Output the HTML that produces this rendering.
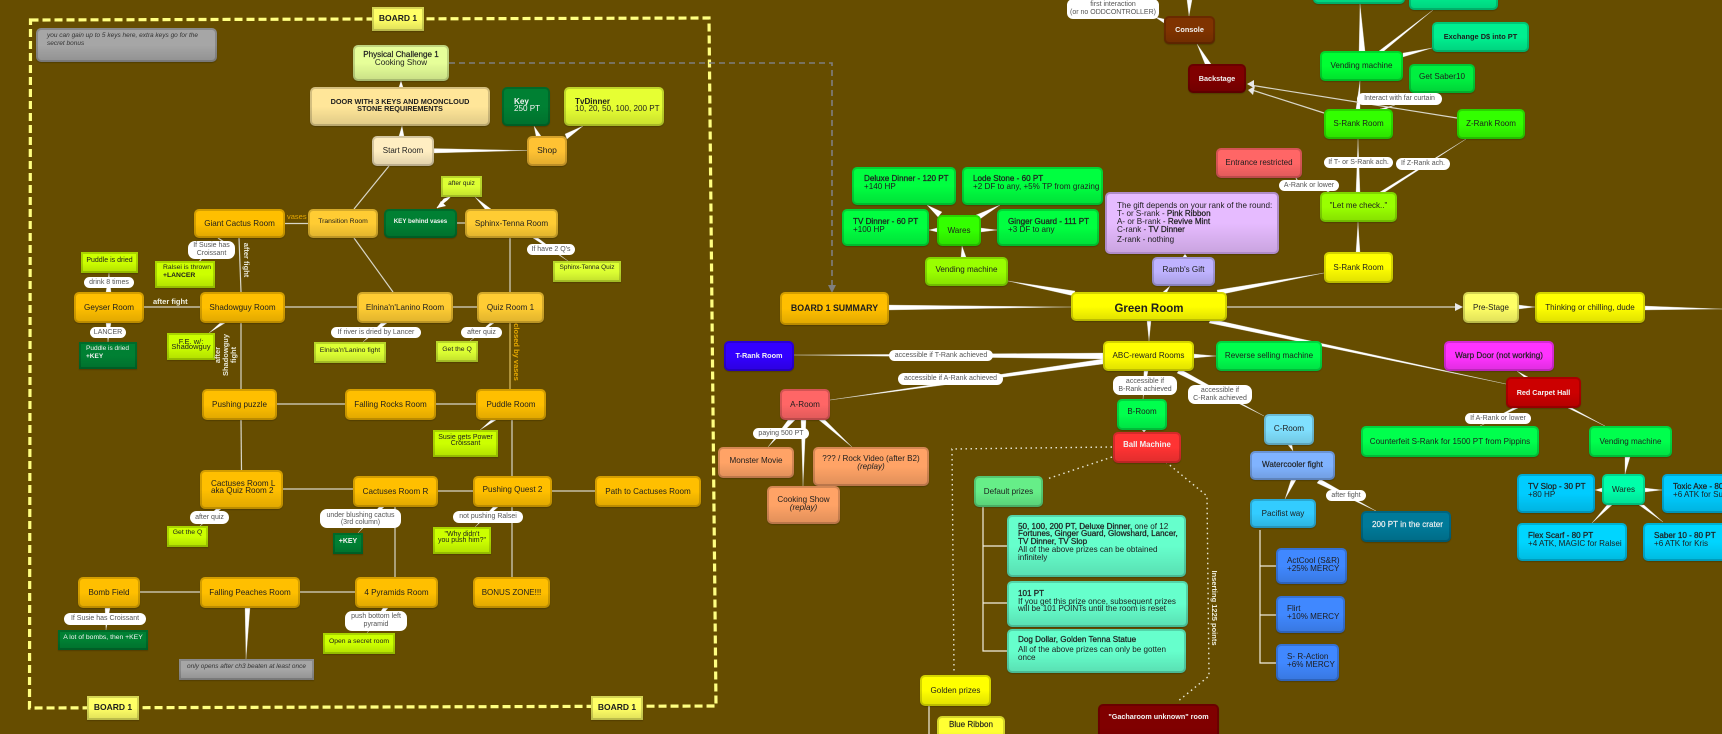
<!DOCTYPE html>
<html><head><meta charset="utf-8"><title>Board 1 diagram</title>
<style>
html,body{margin:0;padding:0;width:1722px;height:734px;overflow:hidden;background:#664d00}
body{position:relative;font-family:"Liberation Sans",sans-serif}
svg.c{position:absolute;left:0;top:0}
.n{position:absolute;box-sizing:border-box;border:2px solid rgba(0,0,0,.17);border-radius:5px;background-image:linear-gradient(to bottom,rgba(0,0,0,0) 50%,rgba(0,0,0,.13));background-origin:border-box;display:flex;align-items:center;justify-content:center;text-align:center;font-size:8.1px;line-height:7.6px;color:#1d1d1d;box-shadow:0 1px 1px rgba(0,0,0,.2);white-space:nowrap}
.r{border-radius:0}
.lf{justify-content:flex-start;text-align:left;padding-left:9px}
.w{color:#f2f2f2}
.b{font-weight:bold}
.l{position:absolute;box-sizing:border-box;background:#fff;border-radius:7px;display:flex;align-items:center;justify-content:center;text-align:center;font-size:7px;line-height:8px;color:#555;white-space:nowrap}
.t{position:absolute;font-size:7.5px;line-height:8px;white-space:nowrap;text-align:center}
.v{transform:translate(-50%,-50%) rotate(90deg);transform-origin:center}
.u{transform:translate(-50%,-50%) rotate(-90deg);transform-origin:center}
</style></head><body>
<svg class="c" width="1722" height="734" viewBox="0 0 1722 734">
<polygon points="30.500,20 709,18 716,706 29.500,708" fill="none" stroke="#ffff80" stroke-width="3.2" stroke-dasharray="8 4"/>
<polyline points="449,63 832,63 832,286" fill="none" stroke="#7f7f7f" stroke-width="1.6" stroke-dasharray="6 4"/>
<polygon points="828,285 836,285 832,293" fill="#7f7f7f"/>

<g fill="#fff" stroke="#d6d6d0" stroke-width=".3">
<polygon points="399,87 403,87 401,81"/>
<polygon points="399,136 404,136 402,126"/>
<polygon points="434,148.500 434,153 527,150.500"/>
<polygon points="536,136 541,136 534,126"/>
<polygon points="565,134 567,139 583,126"/>
<polygon points="491,209 485,209 475,197"/>
<polygon points="533,238 538,238 568,261"/>
<polygon points="490,323 494,323 470,341"/>
<polygon points="106,292 111,292 109,273"/>
<polygon points="106,323 111,323 108,342"/>
<polygon points="220,323 225,323 209,333"/>
<polygon points="381,323 387,323 363,342"/>
<polygon points="491,420 496,420 480,430"/>
<polygon points="216,509 221,509 199,527"/>
<polygon points="379,507 384,507 358,533"/>
<polygon points="493,507 498,507 475,527"/>
<polygon points="105,608 110,608 106,630"/>
<polygon points="245,608 250,608 246,659"/>
<polygon points="383,608 388,608 367,633"/>
<polygon points="889,305 889,310 1071,307"/>
<polygon points="1075,291 1074,296 1008,281"/>
<polygon points="961,257 966,257 962,246"/>
<polygon points="938,217 942,212 927,205"/>
<polygon points="976,215 980,219 1000,205"/>
<polygon points="937,228 937,232 929,230"/>
<polygon points="981,228 981,232 997,230"/>
<polygon points="1183,257 1187,257 1185,254"/>
<polygon points="1163,292 1167,292 1170,286"/>
<polygon points="1217,290 1218,295 1324,273"/>
<polygon points="1211,319 1209,323 1506,384"/>
<polygon points="1147,321 1151,321 1149,341"/>
<polygon points="1103,353 1103,359 794,355"/>
<polygon points="1103,359 1103,364 830,400"/>
<polygon points="1194,354 1194,358 1216,356"/>
<polygon points="1144,371 1148,371 1143,399"/>
<polygon points="1180,369 1177,373 1264,416"/>
<polygon points="1142,430 1146,430 1144,432"/>
<polygon points="1288,445 1292,445 1293,451"/>
<polygon points="1291,480 1296,480 1285,499"/>
<polygon points="1320,479 1317,483 1376,511"/>
<polygon points="788,420 795,420 768,447"/>
<polygon points="801,420 806,420 803,486"/>
<polygon points="819,420 825,420 852,447"/>
<polygon points="1187,0 1192,0 1189,16"/>
<polygon points="1164,19 1164,23 1155,17"/>
<polygon points="1205,64 1211,64 1197,44"/>
<polygon points="1359,51 1365,51 1360,4"/>
<polygon points="1379,51 1384,51 1433,10"/>
<polygon points="1403,53 1403,57 1432,48"/>
<polygon points="1356,109 1360,109 1360,81"/>
<polygon points="1380,109 1386,109 1395,105"/>
<polygon points="1356,192 1360,192 1358,139"/>
<polygon points="1380,192 1385,192 1466,139"/>
<polygon points="1356,252 1360,252 1358,222"/>
<polygon points="1519,305 1519,309 1535,307"/>
<polygon points="1645,306 1645,310 1722,309"/>
<polygon points="1524,377 1528,377 1517,371"/>
<polygon points="1513,408 1518,408 1480,426"/>
<polygon points="1568,408 1572,408 1605,426"/>
<polygon points="1625,457 1630,457 1625,474"/>
<polygon points="1602,488 1602,492 1595,490"/>
<polygon points="1645,488 1645,492 1662,490"/>
<polygon points="1607,505 1612,505 1592,523"/>
<polygon points="1639,505 1644,505 1663,522"/>
</g>

<g fill="none" stroke="#d8d6c8" stroke-width="1.2">
<line x1="389" y1="166" x2="354" y2="209"/>
<line x1="354" y1="238" x2="393" y2="292"/>
<line x1="457" y1="223" x2="465" y2="223"/>
<line x1="285" y1="223.500" x2="308" y2="223.500"/>
<line x1="239" y1="238" x2="241" y2="292"/>
<line x1="510" y1="238" x2="510" y2="292"/>
<line x1="510" y1="323" x2="510" y2="389" stroke="#e0c060"/>
<line x1="453" y1="307" x2="477" y2="307"/>
<line x1="285" y1="307" x2="357" y2="307"/>
<line x1="144" y1="307" x2="200" y2="307"/>
<line x1="241" y1="323" x2="241" y2="389"/>
<line x1="277" y1="404" x2="345" y2="404"/>
<line x1="241" y1="420" x2="241.500" y2="470"/>
<line x1="436" y1="404" x2="476" y2="404"/>
<line x1="512" y1="420" x2="512" y2="476"/>
<line x1="283" y1="489" x2="353" y2="489"/>
<line x1="438" y1="491" x2="473" y2="491"/>
<line x1="552" y1="491" x2="595" y2="491"/>
<line x1="512" y1="507" x2="512" y2="577"/>
<line x1="395" y1="507" x2="395" y2="577"/>
<line x1="140" y1="592" x2="200" y2="592"/>
<line x1="300" y1="592" x2="355" y2="592"/>
<line x1="1227" y1="307" x2="1457" y2="307"/>
<line x1="1457" y1="118" x2="1250" y2="85"/>
<line x1="1324" y1="113" x2="1252" y2="90"/>
<line x1="1296" y1="178" x2="1298" y2="182"/>
<line x1="1330" y1="190" x2="1326" y2="193"/>
<line x1="218" y1="238" x2="224" y2="242"/>
<line x1="202" y1="258" x2="199" y2="262"/>
</g>
<polygon points="1455,303 1463,307 1455,311" fill="#e8e8e8"/>
<polygon points="1247,84 1254,80 1254,88" fill="#e8e8e8"/>
<polygon points="1248,90 1255,86 1253,95" fill="#e8e8e8"/>
<polygon points="450,197 447,200 437,208 444,199" fill="#fff" stroke="#fff"/>
<polygon points="437,208 441,201 446,206" fill="#fff"/>

<g fill="none" stroke="#f2efe0" stroke-width="1.2">
<polyline points="983,507 983,651 1007,651"/>
<line x1="983" y1="546" x2="1007" y2="546"/>
<line x1="983" y1="603" x2="1007" y2="603"/>
<polyline points="1260,530 1260,663 1276,663"/>
<line x1="1260" y1="566" x2="1276" y2="566"/>
<line x1="1260" y1="615" x2="1276" y2="615"/>
<line x1="929" y1="706" x2="929" y2="734"/>
</g>
<g fill="none" stroke="#e8e8d8" stroke-width="1.4" stroke-dasharray="1.500 3.500">
<polyline points="1112,447 952,449 954,672"/>
<line x1="1112" y1="457" x2="1047" y2="479"/>
<polyline points="1166,462 1207,496 1209,676 1177,702"/>
</g>
</svg>

<div class="n r b" style="left:372px;top:7px;width:52px;height:24px;background-color:#ffff66;font-size:8.500px">BOARD 1</div>
<div class="n r b" style="left:87px;top:696px;width:52px;height:24px;background-color:#ffff66;font-size:8.500px">BOARD 1</div>
<div class="n r b" style="left:591px;top:696px;width:52px;height:24px;background-color:#ffff66;font-size:8.500px">BOARD 1</div>
<div class="n lf" style="left:36px;top:28px;width:181px;height:34px;background-color:#a6a6a6;font-size:6.500px;line-height:8px;font-style:italic;color:#333;padding-bottom:10px">you can gain up to 5 keys here, extra keys go for the<br>secret bonus</div>

<div class="n" style="left:353px;top:45px;width:96px;height:36px;background-color:#e6ff99;padding-bottom:8px;line-height:8px"><span><b style="font-weight:normal;-webkit-text-stroke:.2px #222">Physical Challenge 1</b><br>Cooking Show</span></div>
<div class="n b" style="left:310px;top:87px;width:180px;height:39px;background-color:#ffe699;font-size:7.300px;line-height:7px;padding-bottom:4px">DOOR WITH 3 KEYS AND MOONCLOUD<br>STONE REQUIREMENTS</div>
<div class="n" style="left:372px;top:136px;width:62px;height:30px;background-color:#ffeec2;font-size:8px">Start Room</div>
<div class="n" style="left:527px;top:136px;width:40px;height:30px;background-color:#ffc233;font-size:8.500px">Shop</div>
<div class="n lf w" style="left:502px;top:87px;width:48px;height:39px;background-color:#008033;padding-left:10px;line-height:7px;padding-bottom:4px"><span><b>Key</b><br>250 PT</span></div>
<div class="n lf" style="left:564px;top:87px;width:100px;height:39px;background-color:#e6ff33;line-height:7px;padding-bottom:4px"><span><b>TvDinner</b><br>10, 20, 50, 100, 200 PT</span></div>

<div class="n r" style="left:441px;top:176px;width:41px;height:21px;background-color:#ddff33;font-size:6.500px;padding-bottom:6px">after quiz</div>
<div class="n" style="left:194px;top:209px;width:91px;height:29px;background-color:#ffbf00">Giant Cactus Room</div>
<div class="n" style="left:308px;top:209px;width:70px;height:29px;background-color:#ffcc33;font-size:6.800px;padding-bottom:3px">Transition Room</div>
<div class="n w b" style="left:384px;top:209px;width:73px;height:29px;background-color:#008033;font-size:6.200px;padding-bottom:3px">KEY behind vases</div>
<div class="n" style="left:465px;top:209px;width:93px;height:29px;background-color:#ffcc33">Sphinx-Tenna Room</div>
<div class="n r" style="left:553px;top:261px;width:68px;height:21px;background-color:#ddff33;font-size:6.500px;padding-bottom:7px">Sphinx-Tenna Quiz</div>
<div class="n r lf" style="left:155px;top:261px;width:60px;height:27px;background-color:#ccff00;font-size:6.800px;line-height:8px;padding-left:6px;padding-bottom:6px"><span>Ralsei is thrown<br><b>+LANCER</b></span></div>
<div class="n r" style="left:81px;top:252px;width:57px;height:21px;background-color:#ccff00;font-size:7px;padding-bottom:4px">Puddle is dried</div>
<div class="n" style="left:74px;top:292px;width:70px;height:31px;background-color:#ffbf00">Geyser Room</div>
<div class="n" style="left:200px;top:292px;width:85px;height:31px;background-color:#ffbf00">Shadowguy Room</div>
<div class="n" style="left:357px;top:292px;width:96px;height:31px;background-color:#ffcc33">Elnina'n'Lanino Room</div>
<div class="n" style="left:477px;top:292px;width:67px;height:31px;background-color:#ffcc33">Quiz Room 1</div>
<div class="n r lf w" style="left:79px;top:342px;width:58px;height:27px;background-color:#008033;font-size:6.500px;line-height:8px;padding-left:5px;padding-bottom:6px"><span>Puddle is dried<br><b>+KEY</b></span></div>
<div class="n r" style="left:167px;top:333px;width:48px;height:27px;background-color:#ccff00;font-size:7.500px;line-height:5px;padding-bottom:5px"><span>F.E. w/:<br>Shadowguy</span></div>
<div class="n r" style="left:314px;top:342px;width:72px;height:21px;background-color:#ddff33;font-size:6.800px;padding-bottom:3px">Elnina'n'Lanino fight</div>
<div class="n r" style="left:436px;top:341px;width:42px;height:21px;background-color:#ddff33;font-size:6.800px;padding-bottom:3px">Get the Q</div>
<div class="n w b" style="left:724px;top:341px;width:70px;height:30px;background-color:#3300ff;font-size:7.300px">T-Rank Room</div>
<div class="n b" style="left:780px;top:292px;width:109px;height:33px;background-color:#ffbf00;font-size:8.800px">BOARD 1 SUMMARY</div>

<div class="n" style="left:202px;top:389px;width:75px;height:31px;background-color:#ffbf00">Pushing puzzle</div>
<div class="n" style="left:345px;top:389px;width:91px;height:31px;background-color:#ffbf00">Falling Rocks Room</div>
<div class="n" style="left:476px;top:389px;width:70px;height:31px;background-color:#ffbf00">Puddle Room</div>
<div class="n r" style="left:433px;top:430px;width:65px;height:27px;background-color:#ccff00;font-size:7px;line-height:6px;padding-bottom:5px">Susie gets Power<br>Croissant</div>
<div class="n lf" style="left:200px;top:470px;width:83px;height:39px;background-color:#ffbf00;line-height:7px;padding-bottom:6px">Cactuses Room L<br>aka Quiz Room 2</div>
<div class="n" style="left:353px;top:476px;width:85px;height:31px;background-color:#ffbf00">Cactuses Room R</div>
<div class="n" style="left:473px;top:476px;width:79px;height:31px;background-color:#ffbf00;padding-bottom:3px">Pushing Quest 2</div>
<div class="n" style="left:595px;top:476px;width:106px;height:31px;background-color:#ffbf00">Path to Cactuses Room</div>
<div class="n r" style="left:167px;top:526px;width:41px;height:21px;background-color:#ccff00;font-size:6.800px;padding-bottom:7px">Get the Q</div>
<div class="n r w b" style="left:333px;top:533px;width:30px;height:21px;background-color:#008033;font-size:7px;padding-bottom:3px">+KEY</div>
<div class="n r" style="left:433px;top:527px;width:58px;height:27px;background-color:#ccff00;font-size:7px;line-height:6px;padding-bottom:5px">"Why didn't<br>you push him?"</div>
<div class="n" style="left:78px;top:577px;width:62px;height:31px;background-color:#ffbf00">Bomb Field</div>
<div class="n" style="left:200px;top:577px;width:100px;height:31px;background-color:#ffbf00">Falling Peaches Room</div>
<div class="n" style="left:355px;top:577px;width:83px;height:31px;background-color:#ffbf00">4 Pyramids Room</div>
<div class="n" style="left:473px;top:577px;width:77px;height:31px;background-color:#ffbf00;font-size:8px">BONUS ZONE!!!</div>
<div class="n r w" style="left:58px;top:630px;width:90px;height:20px;background-color:#008033;font-size:6.800px;padding-bottom:4px">A lot of bombs, then +KEY</div>
<div class="n r" style="left:323px;top:633px;width:72px;height:21px;background-color:#ccff00;font-size:6.800px;padding-bottom:4px">Open a secret room</div>
<div class="n r" style="left:179px;top:659px;width:135px;height:21px;background-color:#a6a6a6;font-size:6.500px;font-style:italic;color:#333;padding-bottom:6px">only opens after ch3 beaten at least once</div>

<div class="n" style="left:780px;top:389px;width:50px;height:31px;background-color:#ff6666">A-Room</div>
<div class="n" style="left:718px;top:447px;width:76px;height:31px;background-color:#ffa366;padding-bottom:3px">Monster Movie</div>
<div class="n" style="left:813px;top:447px;width:116px;height:39px;background-color:#ffa366;line-height:8px;padding-bottom:7px"><span>??? / Rock Video (after B2)<br><i>(replay)</i></span></div>
<div class="n" style="left:767px;top:486px;width:73px;height:38px;background-color:#ffa366;line-height:8px;padding-bottom:3px"><span>Cooking Show<br><i>(replay)</i></span></div>

<div class="n w b" style="left:1164px;top:16px;width:51px;height:28px;background-color:#7f3300;font-size:7.300px">Console</div>
<div class="n w b" style="left:1188px;top:64px;width:58px;height:29px;background-color:#800000;font-size:7.300px">Backstage</div>
<div class="n" style="left:1216px;top:148px;width:86px;height:30px;background-color:#ff6666;font-size:8px">Entrance restricted</div>
<div class="n lf" style="left:852px;top:167px;width:104px;height:38px;background-color:#00ff40;line-height:8px;padding-left:10px;padding-bottom:6px"><span><b style="font-weight:normal;-webkit-text-stroke:.25px #222">Deluxe Dinner - 120 PT</b><br>+140 HP</span></div>
<div class="n lf" style="left:962px;top:167px;width:141px;height:38px;background-color:#00ff40;line-height:8px;padding-bottom:6px"><span><b style="font-weight:normal;-webkit-text-stroke:.25px #222">Lode Stone - 60 PT</b><br>+2 DF to any, +5% TP from grazing</span></div>
<div class="n lf" style="left:842px;top:209px;width:87px;height:37px;background-color:#00ff40;line-height:7.500px;padding-bottom:4px"><span><b style="font-weight:normal;-webkit-text-stroke:.25px #222">TV Dinner - 60 PT</b><br>+100 HP</span></div>
<div class="n" style="left:937px;top:215px;width:44px;height:31px;background-color:#33ff00">Wares</div>
<div class="n lf" style="left:997px;top:209px;width:102px;height:37px;background-color:#00ff40;line-height:7.500px;padding-bottom:4px"><span><b style="font-weight:normal;-webkit-text-stroke:.25px #222">Ginger Guard - 111 PT</b><br>+3 DF to any</span></div>
<div class="n" style="left:925px;top:257px;width:83px;height:29px;background-color:#99ff00;padding-bottom:3px">Vending machine</div>
<div class="n lf" style="left:1105px;top:192px;width:174px;height:62px;background-color:#e6bbff;line-height:8px;padding-left:10px;align-items:flex-start;padding-top:8px;border-color:#b08cc8"><span>The gift depends on your rank of the round:<br>T- or S-rank - <b style="font-weight:normal;-webkit-text-stroke:.25px #222">Pink Ribbon</b><br>A- or B-rank - <b style="font-weight:normal;-webkit-text-stroke:.25px #222">Revive Mint</b><br>C-rank - <b style="font-weight:normal;-webkit-text-stroke:.25px #222">TV Dinner</b><br><span style="display:block;margin-top:2px">Z-rank - nothing</span></span></div>
<div class="n" style="left:1152px;top:257px;width:63px;height:29px;background-color:#bfb3ff;padding-bottom:3px">Ramb's Gift</div>
<div class="n b" style="left:1071px;top:292px;width:156px;height:29px;background-color:#ffff00;font-size:11.500px;padding-top:7px">Green Room</div>
<div class="n" style="left:1103px;top:341px;width:91px;height:30px;background-color:#ffff00">ABC-reward Rooms</div>
<div class="n" style="left:1216px;top:341px;width:106px;height:30px;background-color:#00ff4d">Reverse selling machine</div>

<div class="n" style="left:1313px;top:-26px;width:92px;height:30px;background-color:#00f090">&nbsp;</div>
<div class="n" style="left:1409px;top:-20px;width:89px;height:30px;background-color:#00f090">&nbsp;</div>
<div class="n b" style="left:1432px;top:22px;width:97px;height:30px;background-color:#00f090;font-size:7.400px">Exchange D$ into PT</div>
<div class="n" style="left:1320px;top:51px;width:83px;height:30px;background-color:#00ff33">Vending machine</div>
<div class="n" style="left:1409px;top:64px;width:66px;height:29px;background-color:#00f040;padding-bottom:3px">Get Saber10</div>
<div class="n" style="left:1324px;top:109px;width:69px;height:30px;background-color:#33ff00;font-size:8px">S-Rank Room</div>
<div class="n" style="left:1457px;top:109px;width:68px;height:30px;background-color:#33ff00;font-size:8px">Z-Rank Room</div>
<div class="n" style="left:1320px;top:192px;width:77px;height:30px;background-color:#99ff00;font-size:8px;padding-bottom:3px">"Let me check.."</div>
<div class="n" style="left:1324px;top:252px;width:69px;height:31px;background-color:#ffff00;font-size:8px">S-Rank Room</div>
<div class="n" style="left:1463px;top:292px;width:56px;height:31px;background-color:#ffff66;font-size:8px">Pre-Stage</div>
<div class="n" style="left:1535px;top:292px;width:110px;height:31px;background-color:#ffff00">Thinking or chilling, dude</div>
<div class="n" style="left:1444px;top:341px;width:110px;height:30px;background-color:#ff33ff;-webkit-text-stroke:.2px #222">Warp Door (not working)</div>

<div class="n w b" style="left:1506px;top:377px;width:75px;height:31px;background-color:#cc0000;font-size:7.200px">Red Carpet Hall</div>
<div class="n" style="left:1361px;top:426px;width:178px;height:31px;background-color:#00ff4d">Counterfeit S-Rank for 1500 PT from Pippins</div>
<div class="n" style="left:1589px;top:426px;width:83px;height:31px;background-color:#00ff4d">Vending machine</div>
<div class="n lf" style="left:1517px;top:474px;width:78px;height:39px;background-color:#00ccff;line-height:7.500px;padding-bottom:6px"><span><b style="font-weight:normal;-webkit-text-stroke:.25px #222">TV Slop - 30 PT</b><br>+80 HP</span></div>
<div class="n" style="left:1602px;top:474px;width:43px;height:31px;background-color:#00ffaa">Wares</div>
<div class="n lf" style="left:1662px;top:474px;width:90px;height:39px;background-color:#00ccff;line-height:7.500px;padding-bottom:6px"><span><b style="font-weight:normal;-webkit-text-stroke:.25px #222">Toxic Axe - 80 PT</b><br>+6 ATK for Susie</span></div>
<div class="n lf" style="left:1517px;top:523px;width:110px;height:38px;background-color:#00d5ff;line-height:8px;padding-bottom:4px"><span><b style="font-weight:normal;-webkit-text-stroke:.25px #222">Flex Scarf - 80 PT</b><br>+4 ATK, MAGIC for Ralsei</span></div>
<div class="n lf" style="left:1643px;top:523px;width:90px;height:38px;background-color:#00d5ff;line-height:8px;padding-bottom:4px"><span><b style="font-weight:normal;-webkit-text-stroke:.25px #222">Saber 10 - 80 PT</b><br>+6 ATK for Kris</span></div>

<div class="n" style="left:1117px;top:399px;width:50px;height:31px;background-color:#00ff4d;font-size:8px;padding-bottom:6px">B-Room</div>
<div class="n w b" style="left:1113px;top:432px;width:68px;height:31px;background-color:#ff3333;font-size:7.800px;padding-bottom:5px">Ball Machine</div>
<div class="n" style="left:1264px;top:414px;width:50px;height:31px;background-color:#80e0ff;padding-bottom:2px">C-Room</div>
<div class="n" style="left:1250px;top:451px;width:85px;height:29px;background-color:#80b3ff;-webkit-text-stroke:.15px #222;padding-bottom:2px">Watercooler fight</div>
<div class="n" style="left:1250px;top:499px;width:66px;height:29px;background-color:#33ccff">Pacifist way</div>
<div class="n" style="left:974px;top:476px;width:69px;height:31px;background-color:#66ee88">Default prizes</div>
<div class="n lf" style="left:1007px;top:515px;width:179px;height:62px;background-color:#66ffcc;line-height:7.800px;padding-bottom:8px"><span><b style="font-weight:normal;-webkit-text-stroke:.25px #222">50, 100, 200 PT, Deluxe Dinner,</b> one of 12<br><b style="font-weight:normal;-webkit-text-stroke:.25px #222">Fortunes, Ginger Guard, Glowshard, Lancer,<br>TV Dinner, TV Slop</b><br>All of the above prizes can be obtained<br>infinitely</span></div>
<div class="n lf" style="left:1007px;top:581px;width:181px;height:46px;background-color:#66ffcc;line-height:7.500px;padding-bottom:5px"><span><b style="font-weight:normal;-webkit-text-stroke:.25px #222">101 PT</b><br>If you get this prize once, subsequent prizes<br>will be 101 POINTs until the room is reset</span></div>
<div class="n lf" style="left:1007px;top:629px;width:179px;height:44px;background-color:#66ffcc;line-height:8px;padding-bottom:5px"><span><b style="font-weight:normal;-webkit-text-stroke:.25px #222">Dog Dollar, Golden Tenna Statue</b><br><span style="display:block;margin-top:2px">All of the above prizes can only be gotten<br>once</span></span></div>
<div class="n" style="left:920px;top:675px;width:71px;height:31px;background-color:#ffff00">Golden prizes</div>
<div class="n" style="left:937px;top:716px;width:68px;height:31px;background-color:#ffff33;align-items:flex-start;padding-top:3px;-webkit-text-stroke:.15px #222">Blue Ribbon</div>
<div class="n w b" style="left:1098px;top:704px;width:121px;height:46px;background-color:#800000;font-size:7.200px;align-items:flex-start;padding-top:7px">"Gacharoom unknown" room</div>
<div class="n lf" style="left:1276px;top:548px;width:71px;height:36px;background-color:#4088ff;line-height:8px;padding-bottom:3px">ActCool (S&amp;R)<br>+25% MERCY</div>
<div class="n lf" style="left:1276px;top:596px;width:69px;height:37px;background-color:#4088ff;line-height:8px;padding-bottom:3px">Flirt<br>+10% MERCY</div>
<div class="n lf" style="left:1276px;top:644px;width:63px;height:37px;background-color:#4088ff;line-height:8px;padding-bottom:3px">S- R-Action<br>+6% MERCY</div>
<div class="n lf w" style="left:1361px;top:511px;width:90px;height:31px;background-color:#007a99;padding-bottom:4px;-webkit-text-stroke:.15px #f2f2f2">200 PT in the crater</div>

<div class="l" style="left:1067px;top:-1px;width:92px;height:20px;border-radius:6px">first interaction<br>(or no ODDCONTROLLER)</div>
<div class="l" style="left:188px;top:241px;width:47px;height:18px">If Susie has<br>Croissant</div>
<div class="l" style="left:84px;top:277px;width:50px;height:11px">drink 8 times</div>
<div class="l" style="left:90px;top:327px;width:36px;height:11px">LANCER</div>
<div class="l" style="left:331px;top:327px;width:90px;height:11px">If river is dried by Lancer</div>
<div class="l" style="left:461px;top:327px;width:41px;height:11px">after quiz</div>
<div class="l" style="left:527px;top:244px;width:48px;height:11px">If have 2 Q's</div>
<div class="l" style="left:190px;top:511px;width:39px;height:13px">after quiz</div>
<div class="l" style="left:320px;top:509px;width:81px;height:19px;line-height:7px">under blushing cactus<br>(3rd column)</div>
<div class="l" style="left:453px;top:511px;width:70px;height:12px">not pushing Ralsei</div>
<div class="l" style="left:64px;top:613px;width:82px;height:12px">If Susie has Croissant</div>
<div class="l" style="left:345px;top:611px;width:62px;height:20px">push bottom left<br>pyramid</div>
<div class="l" style="left:753px;top:428px;width:56px;height:11px">paying 500 PT</div>
<div class="l" style="left:889px;top:350px;width:104px;height:11px">accessible if T-Rank achieved</div>
<div class="l" style="left:898px;top:373px;width:105px;height:12px">accessible if A-Rank achieved</div>
<div class="l" style="left:1113px;top:376px;width:64px;height:19px">accessible if<br>B-Rank achieved</div>
<div class="l" style="left:1188px;top:385px;width:64px;height:19px">accessible if<br>C-Rank achieved</div>
<div class="l" style="left:1279px;top:180px;width:60px;height:11px">A-Rank or lower</div>
<div class="l" style="left:1357px;top:93px;width:85px;height:12px">Interact with far curtain</div>
<div class="l" style="left:1324px;top:157px;width:69px;height:11px">If T- or S-Rank ach.</div>
<div class="l" style="left:1396px;top:158px;width:54px;height:12px">If Z-Rank ach.</div>
<div class="l" style="left:1465px;top:413px;width:66px;height:11px">If A-Rank or lower</div>
<div class="l" style="left:1326px;top:490px;width:40px;height:11px">after fight</div>

<div class="t" style="left:287px;top:213px;color:#e6a800">vases</div>
<div class="t b" style="left:153px;top:298px;color:#f0f0e0;font-weight:bold">after fight</div>
<div class="t v" style="left:246px;top:260px;color:#e8e8d8;font-weight:bold">after fight</div>
<div class="t u" style="left:226px;top:355px;color:#e8e8d8;font-weight:bold;line-height:8px">after<br>Shadowguy<br>fight</div>
<div class="t v" style="left:516px;top:352px;color:#e6a800;font-weight:bold">closed by vases</div>
<div class="t v" style="left:1214px;top:608px;color:#f0f0e0;font-weight:bold">Inserting 1225 points</div>
</body></html>
